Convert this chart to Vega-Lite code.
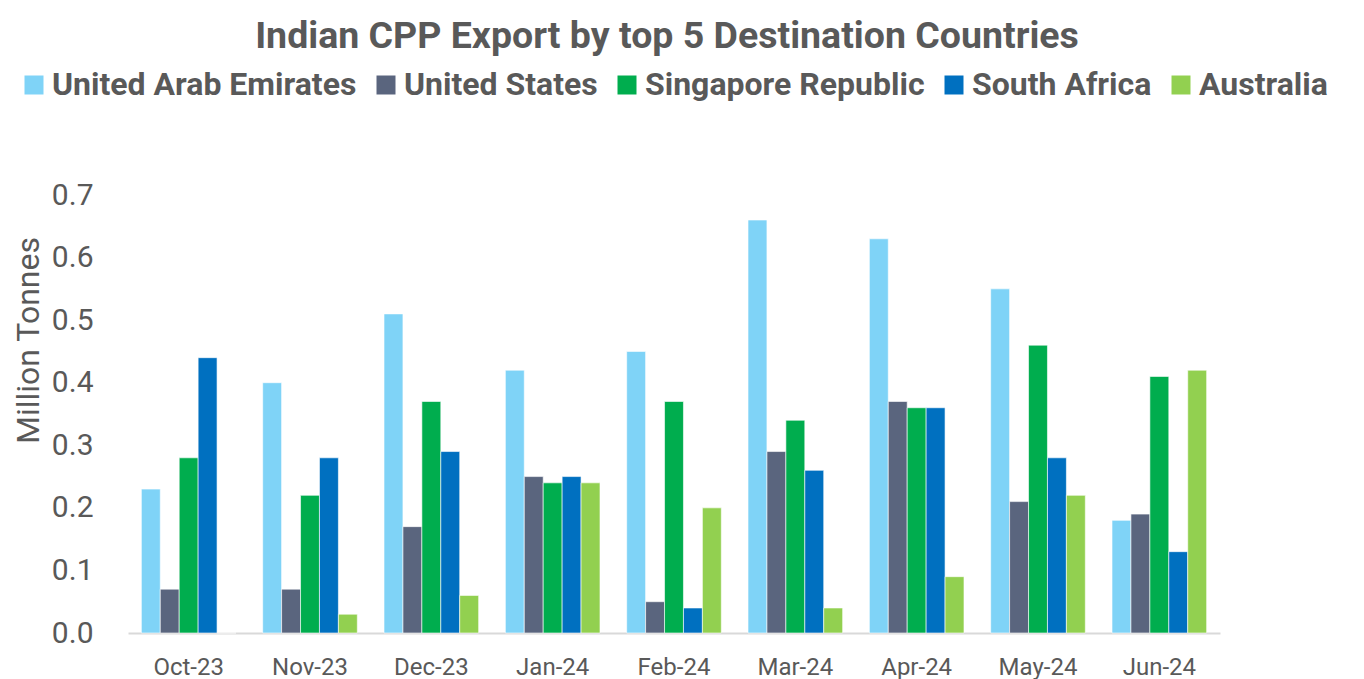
{
  "$schema": "https://vega.github.io/schema/vega-lite/v6.json",
  "width": 1092,
  "height": 438,
  "autosize": "none",
  "padding": {"left": 128, "top": 195, "right": 144, "bottom": 46},
  "background": "white",
  "title": {
    "text": "Indian CPP Export by top 5 Destination Countries",
    "font": "Roboto",
    "fontSize": 37.5,
    "fontWeight": "bold",
    "color": "#595959",
    "anchor": "middle",
    "frame": "group",
    "orient": "top",
    "offset": 14,
    "dx": -7
  },
  "config": {
    "view": {"stroke": null},
    "font": "Roboto"
  },
  "data": {
    "values": [
      {"month": "Oct-23", "country": "United Arab Emirates", "value": 0.23},
      {"month": "Oct-23", "country": "United States", "value": 0.07},
      {"month": "Oct-23", "country": "Singapore Republic", "value": 0.28},
      {"month": "Oct-23", "country": "South Africa", "value": 0.44},
      {"month": "Oct-23", "country": "Australia", "value": 0},
      {"month": "Nov-23", "country": "United Arab Emirates", "value": 0.40},
      {"month": "Nov-23", "country": "United States", "value": 0.07},
      {"month": "Nov-23", "country": "Singapore Republic", "value": 0.22},
      {"month": "Nov-23", "country": "South Africa", "value": 0.28},
      {"month": "Nov-23", "country": "Australia", "value": 0.03},
      {"month": "Dec-23", "country": "United Arab Emirates", "value": 0.51},
      {"month": "Dec-23", "country": "United States", "value": 0.17},
      {"month": "Dec-23", "country": "Singapore Republic", "value": 0.37},
      {"month": "Dec-23", "country": "South Africa", "value": 0.29},
      {"month": "Dec-23", "country": "Australia", "value": 0.06},
      {"month": "Jan-24", "country": "United Arab Emirates", "value": 0.42},
      {"month": "Jan-24", "country": "United States", "value": 0.25},
      {"month": "Jan-24", "country": "Singapore Republic", "value": 0.24},
      {"month": "Jan-24", "country": "South Africa", "value": 0.25},
      {"month": "Jan-24", "country": "Australia", "value": 0.24},
      {"month": "Feb-24", "country": "United Arab Emirates", "value": 0.45},
      {"month": "Feb-24", "country": "United States", "value": 0.05},
      {"month": "Feb-24", "country": "Singapore Republic", "value": 0.37},
      {"month": "Feb-24", "country": "South Africa", "value": 0.04},
      {"month": "Feb-24", "country": "Australia", "value": 0.20},
      {"month": "Mar-24", "country": "United Arab Emirates", "value": 0.66},
      {"month": "Mar-24", "country": "United States", "value": 0.29},
      {"month": "Mar-24", "country": "Singapore Republic", "value": 0.34},
      {"month": "Mar-24", "country": "South Africa", "value": 0.26},
      {"month": "Mar-24", "country": "Australia", "value": 0.04},
      {"month": "Apr-24", "country": "United Arab Emirates", "value": 0.63},
      {"month": "Apr-24", "country": "United States", "value": 0.37},
      {"month": "Apr-24", "country": "Singapore Republic", "value": 0.36},
      {"month": "Apr-24", "country": "South Africa", "value": 0.36},
      {"month": "Apr-24", "country": "Australia", "value": 0.09},
      {"month": "May-24", "country": "United Arab Emirates", "value": 0.55},
      {"month": "May-24", "country": "United States", "value": 0.21},
      {"month": "May-24", "country": "Singapore Republic", "value": 0.46},
      {"month": "May-24", "country": "South Africa", "value": 0.28},
      {"month": "May-24", "country": "Australia", "value": 0.22},
      {"month": "Jun-24", "country": "United Arab Emirates", "value": 0.18},
      {"month": "Jun-24", "country": "United States", "value": 0.19},
      {"month": "Jun-24", "country": "Singapore Republic", "value": 0.41},
      {"month": "Jun-24", "country": "South Africa", "value": 0.13},
      {"month": "Jun-24", "country": "Australia", "value": 0.42}
    ]
  },
  "mark": {"type": "bar", "stroke": "white", "strokeWidth": 0.6},
  "encoding": {
    "x": {
      "field": "month",
      "type": "nominal",
      "sort": null,
      "scale": {"paddingInner": 0.22, "paddingOuter": 0.11},
      "axis": {
        "title": null,
        "labelAngle": 0,
        "labelFont": "Roboto",
        "labelFontSize": 24,
        "labelColor": "#595959",
        "labelPadding": 22,
        "ticks": false,
        "domainColor": "#d9d9d9",
        "domainWidth": 2
      }
    },
    "xOffset": {
      "field": "country",
      "type": "nominal",
      "sort": ["United Arab Emirates", "United States", "Singapore Republic", "South Africa", "Australia"],
      "scale": {"paddingInner": 0, "paddingOuter": 0}
    },
    "y": {
      "field": "value",
      "type": "quantitative",
      "scale": {"domain": [0, 0.7], "nice": false},
      "axis": {
        "title": "Million Tonnes",
        "titleFont": "Roboto",
        "titleFontSize": 32,
        "titleFontWeight": "normal",
        "titleColor": "#595959",
        "titleX": -83,
        "titleY": 145,
        "titleAngle": -90,
        "titleAlign": "center",
        "titleBaseline": "bottom",
        "values": [0, 0.1, 0.2, 0.3, 0.4, 0.5, 0.6, 0.7],
        "format": ".1f",
        "labelFont": "Roboto",
        "labelFontSize": 30,
        "labelColor": "#595959",
        "labelPadding": 35,
        "ticks": false,
        "domain": false,
        "grid": false
      }
    },
    "color": {
      "field": "country",
      "type": "nominal",
      "sort": ["United Arab Emirates", "United States", "Singapore Republic", "South Africa", "Australia"],
      "scale": {
        "domain": ["United Arab Emirates", "United States", "Singapore Republic", "South Africa", "Australia"],
        "range": ["#7fd3f7", "#5a657e", "#00ad4e", "#0070c0", "#92d050"]
      },
      "legend": {
        "title": null,
        "orient": "none",
        "legendX": -110,
        "legendY": -126,
        "direction": "horizontal",
        "symbolType": "square",
        "symbolSize": 361,
        "symbolStrokeWidth": 0,
        "symbolOpacity": 1,
        "labelFont": "Roboto",
        "labelFontSize": 32,
        "labelFontWeight": "bold",
        "labelColor": "#595959",
        "labelLimit": 500,
        "labelOffset": 2,
        "columnPadding": 13
      }
    }
  }
}
